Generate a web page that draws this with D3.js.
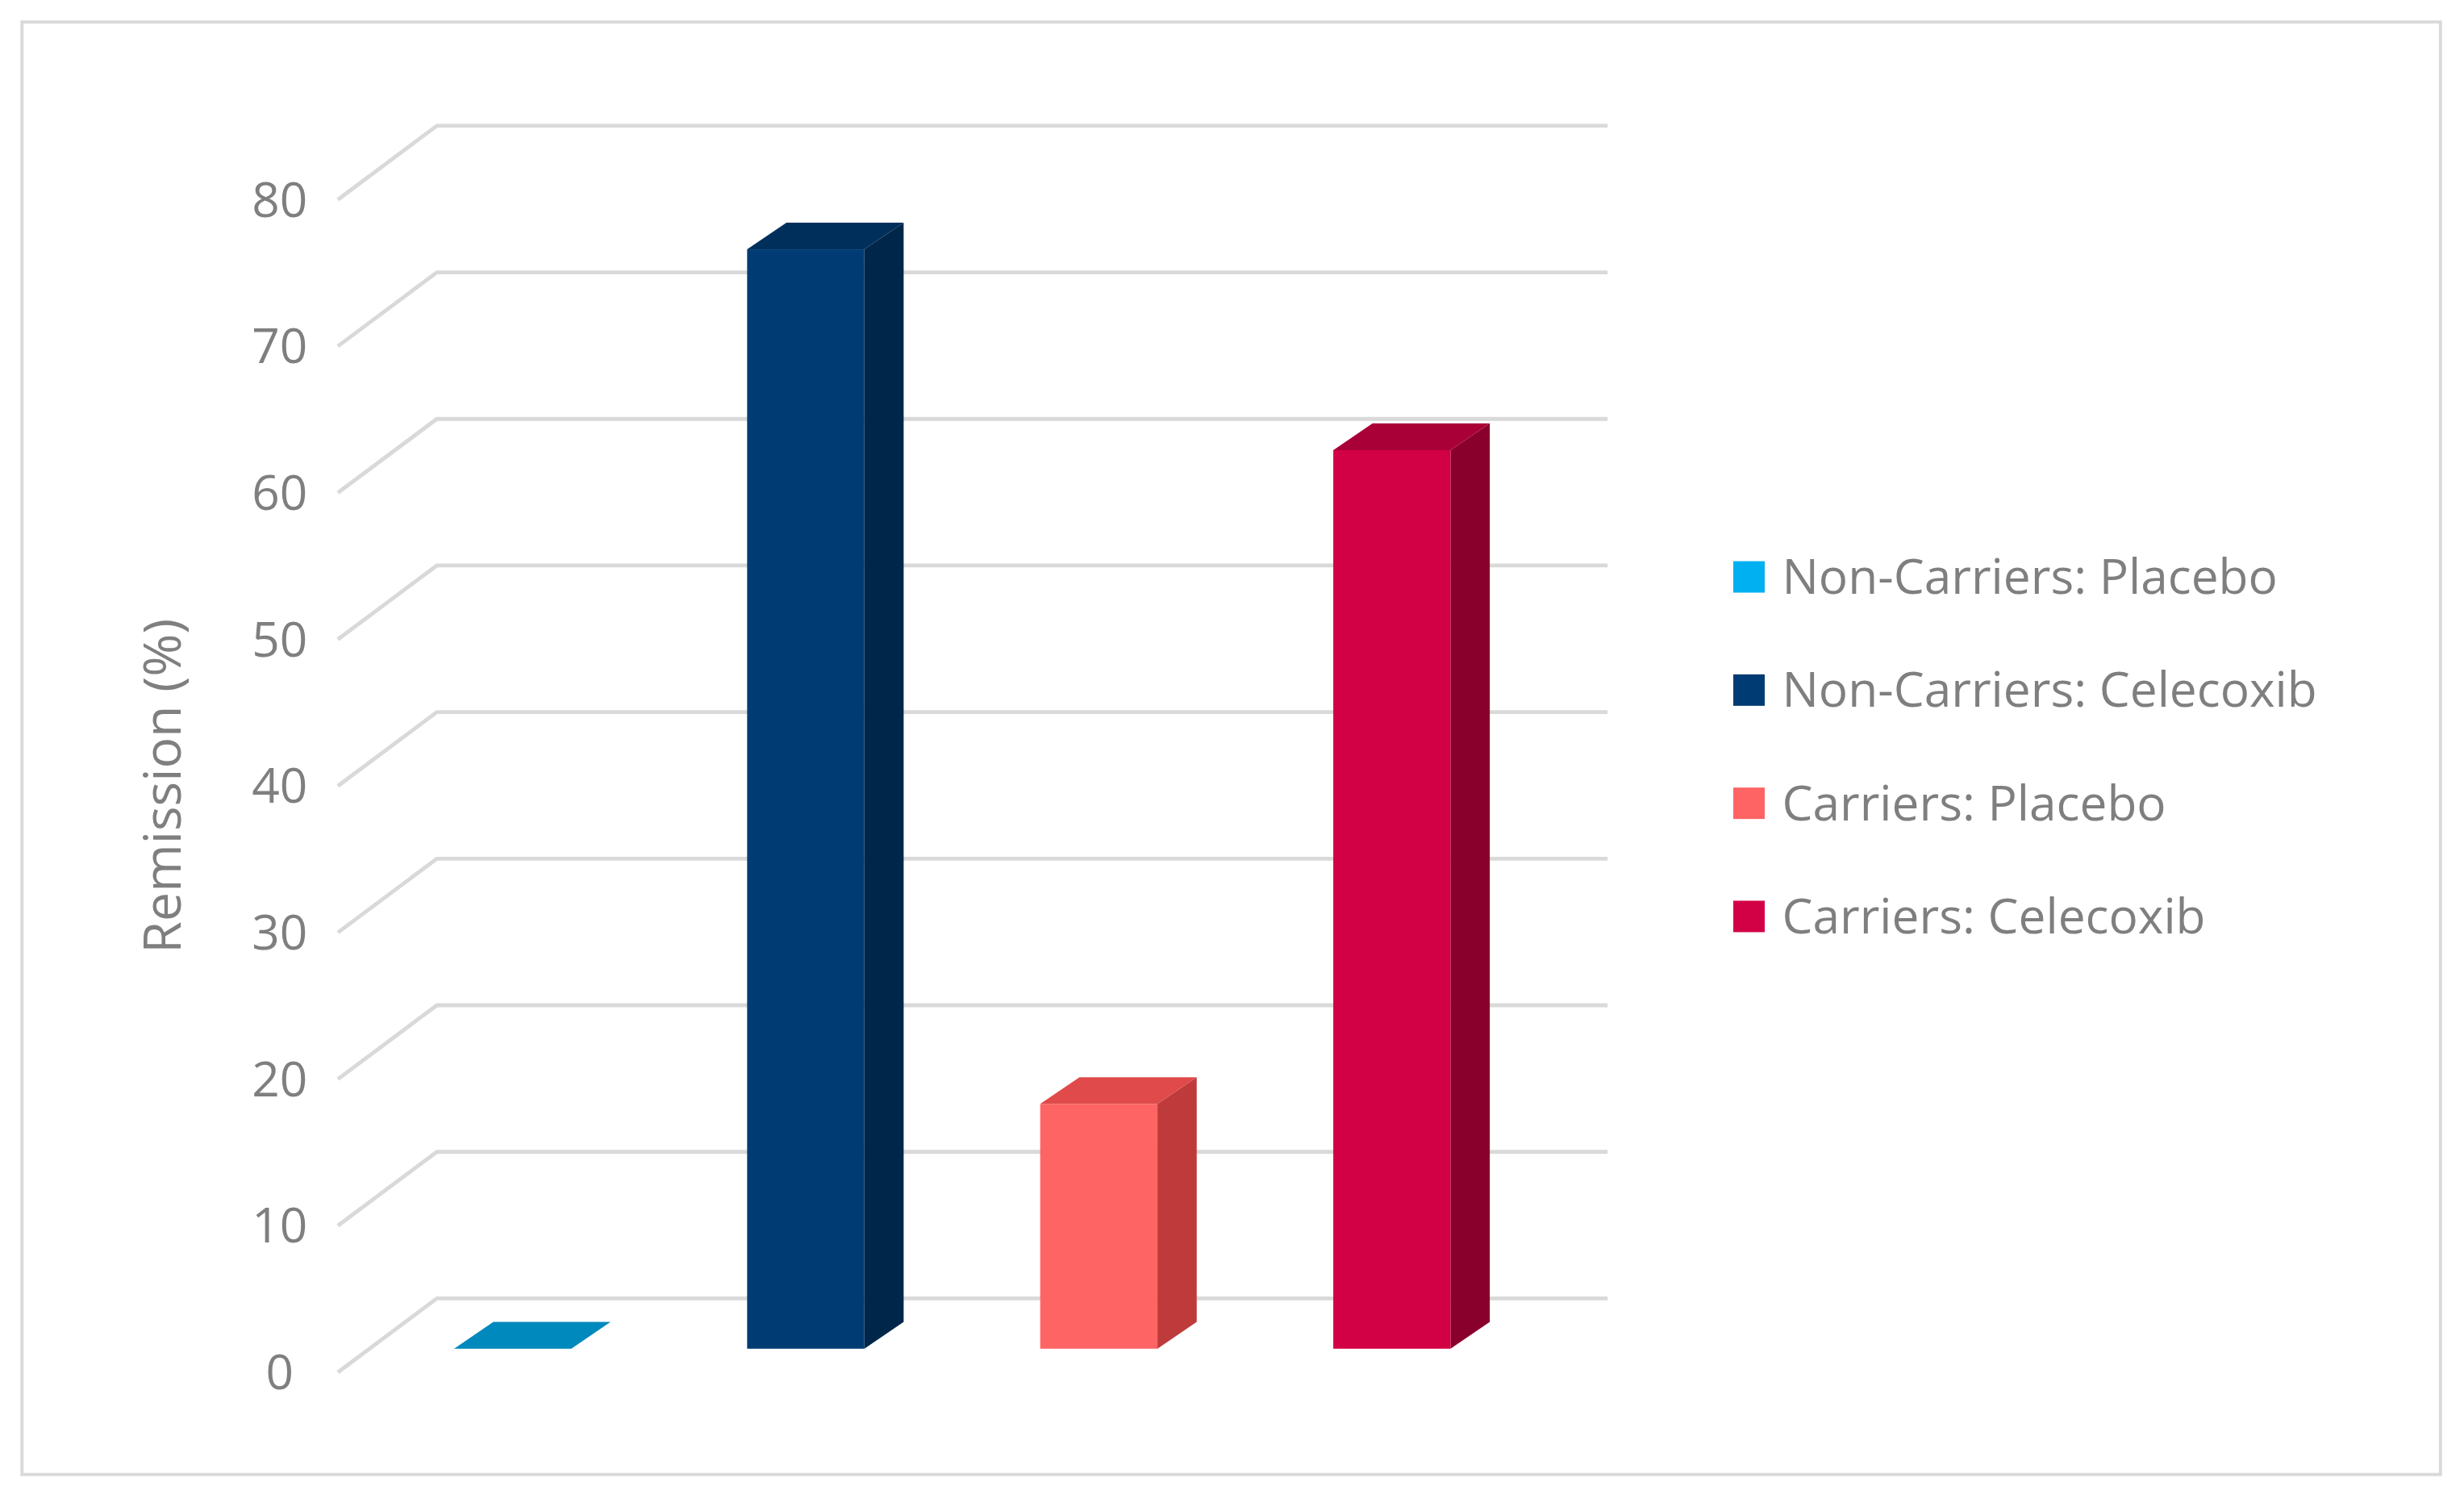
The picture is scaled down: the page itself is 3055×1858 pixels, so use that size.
<!DOCTYPE html>
<html>
<head>
<meta charset="utf-8">
<script src="https://cdn.jsdelivr.net/npm/d3@7"></script>
<style>
  body { margin: 0; background: #fff; }
  text { font-family: "Open Sans", "Noto Sans", sans-serif; fill: #7f7f7f; }
</style>
</head>
<body>
<svg id="chart" width="3055" height="1858" viewBox="0 0 1568 953.6" preserveAspectRatio="none"></svg>
<script>
// chart values
var categories = ["Non-Carriers: Placebo", "Non-Carriers: Celecoxib", "Carriers: Placebo", "Carriers: Celecoxib"];
var values = [0, 75, 16.7, 61.3];
var ticks = [0, 10, 20, 30, 40, 50, 60, 70, 80];
var frontColors = ["#00B0F0", "#003B73", "#FF6464", "#D20044"];
var sideColors = ["#0078A8", "#00264A", "#BF3B3B", "#8A002C"];
var topColors = ["#0089BD", "#002F5C", "#E04A4A", "#AA0038"];

var svg = d3.select("#chart");

// outer frame
svg.append("rect").attr("x", 14).attr("y", 14).attr("width", 1539).attr("height", 924)
    .attr("fill", "none").attr("stroke", "#D9D9D9").attr("stroke-width", 2);

var y = d3.scaleLinear().domain([0, 80]).range([858, 112]);
var x = d3.scaleBand().domain(categories).range([233, 979]);
var barW = x.bandwidth() * 0.4;
var dx = 25, dy = -17;

// gridlines: back wall plus left diagonal
var grid = svg.append("g").attr("stroke", "#D9D9D9").attr("stroke-width", 2.5).attr("fill", "none");
ticks.forEach(function(t) {
    var yy = y(t);
    grid.append("path").attr("d", "M215," + (yy + 15) + "L278," + (yy - 32) + "L1023," + (yy - 32));
});

// tick labels
svg.append("g").selectAll("text").data(ticks).enter().append("text")
    .attr("x", 178).attr("y", function(d) { return y(d) + 15; })
    .attr("dy", "0.35em").attr("text-anchor", "middle")
    .style("font-size", "31px").text(function(d) { return d; });

// axis title
svg.append("text").attr("transform", "translate(115,500) rotate(-90)")
    .attr("text-anchor", "middle").style("font-size", "33px").text("Remission (%)");

// 3D bars
var bars = svg.append("g").selectAll("g").data(categories).enter().append("g");
bars.each(function(c, i) {
    var g = d3.select(this);
    var x0 = x(c) + (x.bandwidth() - barW) / 2, x1 = x0 + barW;
    var yt = y(values[i]), yb = y(0);
    if (values[i] > 0) {
        g.append("path").attr("fill", sideColors[i])
            .attr("d", "M" + x1 + "," + yb + "L" + (x1 + dx) + "," + (yb + dy) + "L" + (x1 + dx) + "," + (yt + dy) + "L" + x1 + "," + yt + "Z");
        g.append("rect").attr("x", x0).attr("y", yt).attr("width", barW).attr("height", yb - yt).attr("fill", frontColors[i]);
    }
    g.append("path").attr("fill", topColors[i])
        .attr("d", "M" + x0 + "," + yt + "L" + (x0 + dx) + "," + (yt + dy) + "L" + (x1 + dx) + "," + (yt + dy) + "L" + x1 + "," + yt + "Z");
});

// legend
var legend = svg.append("g").selectAll("g").data(categories).enter().append("g")
    .attr("transform", function(d, i) { return "translate(1103," + (367 + i * 72) + ")"; });
legend.append("rect").attr("x", 0).attr("y", -10).attr("width", 20).attr("height", 20)
    .attr("fill", function(d, i) { return frontColors[i]; });
legend.append("text").attr("x", 31).attr("dy", "0.35em").style("font-size", "31px").text(function(d) { return d; });
</script>
</body>
</html>
